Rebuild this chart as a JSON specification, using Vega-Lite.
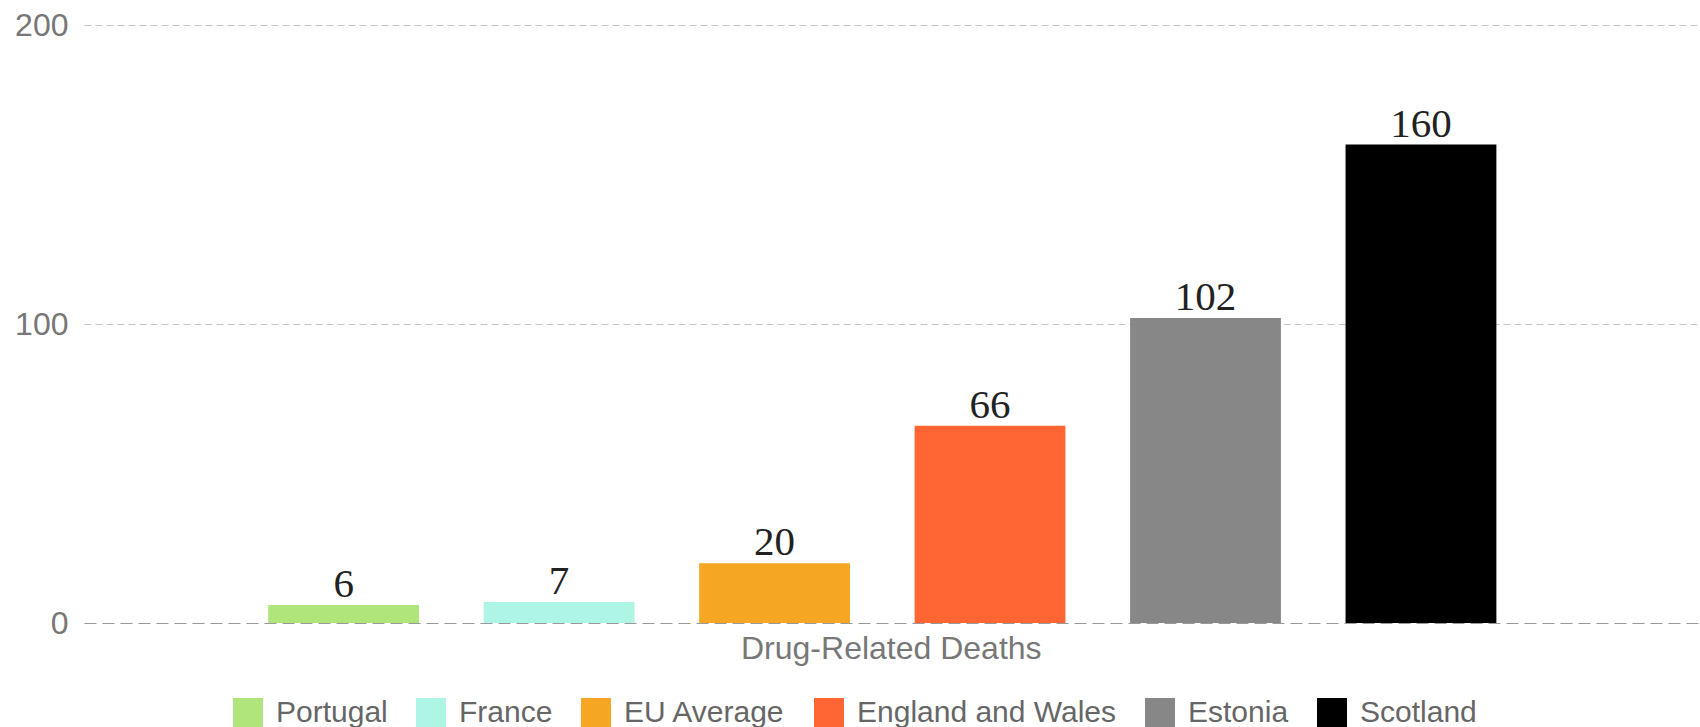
{
  "$schema": "https://vega.github.io/schema/vega-lite/v6.json",
  "width": 1616,
  "height": 598,
  "autosize": {"type": "none"},
  "padding": {"left": 84, "top": 25, "right": 0, "bottom": 104},
  "background": "white",
  "data": {
    "values": [
      {"category": "Drug-Related Deaths", "country": "Portugal", "value": 6},
      {"category": "Drug-Related Deaths", "country": "France", "value": 7},
      {"category": "Drug-Related Deaths", "country": "EU Average", "value": 20},
      {"category": "Drug-Related Deaths", "country": "England and Wales", "value": 66},
      {"category": "Drug-Related Deaths", "country": "Estonia", "value": 102},
      {"category": "Drug-Related Deaths", "country": "Scotland", "value": 160}
    ]
  },
  "encoding": {
    "x": {
      "field": "category",
      "type": "nominal",
      "scale": {"paddingInner": 0, "paddingOuter": 0.125, "align": 0.47},
      "axis": {
        "title": null,
        "labelAngle": 0,
        "ticks": false,
        "domain": false,
        "grid": false,
        "labelFont": "Liberation Sans",
        "labelFontSize": 32,
        "labelColor": "#777777",
        "labelPadding": 10,
        "labelOffset": 9,
        "labelLimit": 0
      }
    },
    "xOffset": {
      "field": "country",
      "type": "nominal",
      "sort": ["Portugal", "France", "EU Average", "England and Wales", "Estonia", "Scotland"],
      "scale": {"paddingInner": 0.3, "paddingOuter": 0.15}
    },
    "y": {
      "field": "value",
      "type": "quantitative",
      "scale": {"domain": [0, 200], "nice": false},
      "axis": {
        "title": null,
        "values": [0, 100, 200],
        "ticks": false,
        "domain": false,
        "grid": true,
        "gridColor": {"condition": {"test": "datum.value === 0", "value": "#999999"}, "value": "#c4c4c4"},
        "gridDash": {"condition": {"test": "datum.value === 0", "value": [12, 6]}, "value": [7, 4]},
        "gridWidth": 1.2,
        "labelFont": "Liberation Sans",
        "labelFontSize": 32,
        "labelColor": "#777777",
        "labelPadding": 16
      }
    }
  },
  "layer": [
    {
      "mark": {"type": "bar"},
      "encoding": {
        "color": {
          "field": "country",
          "type": "nominal",
          "sort": ["Portugal", "France", "EU Average", "England and Wales", "Estonia", "Scotland"],
          "scale": {
            "domain": ["Portugal", "France", "EU Average", "England and Wales", "Estonia", "Scotland"],
            "range": ["#b0e57c", "#aff5e6", "#f5a623", "#ff6633", "#878787", "#000000"]
          },
          "legend": {
            "title": null,
            "orient": "none",
            "legendX": 149,
            "legendY": 673,
            "direction": "horizontal",
            "symbolType": "square",
            "symbolSize": 900,
            "symbolStrokeWidth": 0,
            "symbolOpacity": 1,
            "labelFont": "Liberation Sans",
            "labelFontSize": 30,
            "labelColor": "#666666",
            "labelOffset": 13,
            "labelLimit": 0,
            "columnPadding": 28
          }
        }
      }
    },
    {
      "mark": {
        "type": "text",
        "font": "Liberation Serif",
        "fontSize": 41,
        "baseline": "alphabetic",
        "dy": -8,
        "color": "#222222"
      },
      "encoding": {"text": {"field": "value", "type": "quantitative"}}
    }
  ],
  "config": {"view": {"stroke": null}}
}
